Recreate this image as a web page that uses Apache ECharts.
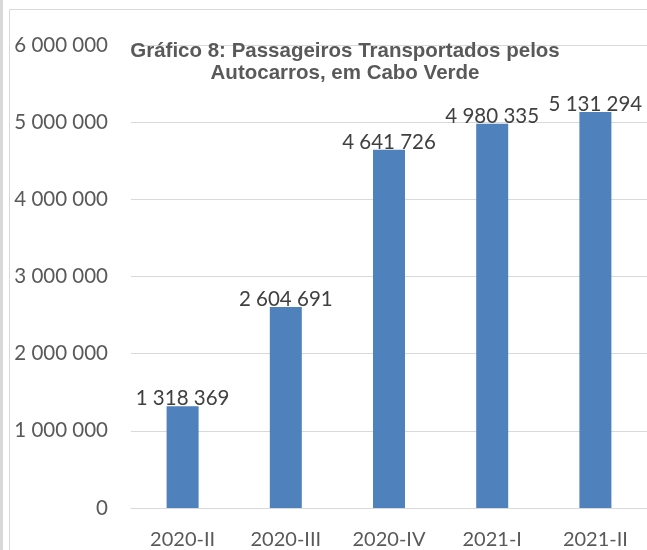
<!DOCTYPE html>
<html><head><meta charset="utf-8">
<script src="https://cdn.jsdelivr.net/npm/echarts@6/dist/echarts.min.js"></script>
<style>html,body{margin:0;padding:0;background:#fff}#c{width:647px;height:550px}</style>
</head><body><div id="c"></div>
<script>
var categories = ['2020-II', '2020-III', '2020-IV', '2021-I', '2021-II'];
var passengers = [1318369, 2604691, 4641726, 4980335, 5131294];
var titleLines = ['Gráfico 8: Passageiros Transportados pelos', 'Autocarros, em Cabo Verde'];

function fmt(v) { return String(v).replace(/\B(?=(\d{3})+(?!\d))/g, ' '); }

var chart = echarts.init(document.getElementById('c'));
chart.setOption({
  animation: false,
  title: {
    text: titleLines.join('\n'),
    left: 345, textAlign: 'center', top: 40,
    padding: 0,
    textStyle: { fontFamily: 'Liberation Sans', fontWeight: 'bold', fontSize: 20.5, color: '#595959', lineHeight: 22 }
  },
  graphic: [
    { type: 'rect', shape: { x: 0, y: 0, width: 3, height: 550 }, style: { fill: '#d9d9d9' }, z: 100 },
    { type: 'line', shape: { x1: 9.5, y1: 9.5, x2: 9.5, y2: 550 }, style: { stroke: '#d9d9d9', lineWidth: 1 }, z: 100 },
    { type: 'line', shape: { x1: 9.5, y1: 9.5, x2: 647, y2: 9.5 }, style: { stroke: '#d9d9d9', lineWidth: 1 }, z: 100 }
  ],
  grid: { left: 131, top: 45, width: 525, height: 463, containLabel: false },
  xAxis: {
    type: 'category', data: categories,
    axisLine: { lineStyle: { color: '#d9d9d9' } }, axisTick: { show: false },
    axisLabel: { margin: 22, fontFamily: 'Lato', fontSize: 20, color: '#595959' }
  },
  yAxis: {
    type: 'value', min: 0, max: 6000000, interval: 1000000,
    axisLine: { show: false }, axisTick: { show: false },
    splitLine: { lineStyle: { color: '#d9d9d9' } },
    axisLabel: { margin: 23, fontFamily: 'Lato', fontSize: 20.5, color: '#595959', formatter: fmt }
  },
  series: [{
    type: 'bar', data: passengers, barWidth: '31%',
    itemStyle: { color: '#4f81bd' },
    label: { show: true, position: 'top', distance: -3, fontFamily: 'Lato', fontSize: 20.5, color: '#404040', formatter: function (p) { return fmt(p.value); } }
  }]
});
</script></body></html>
